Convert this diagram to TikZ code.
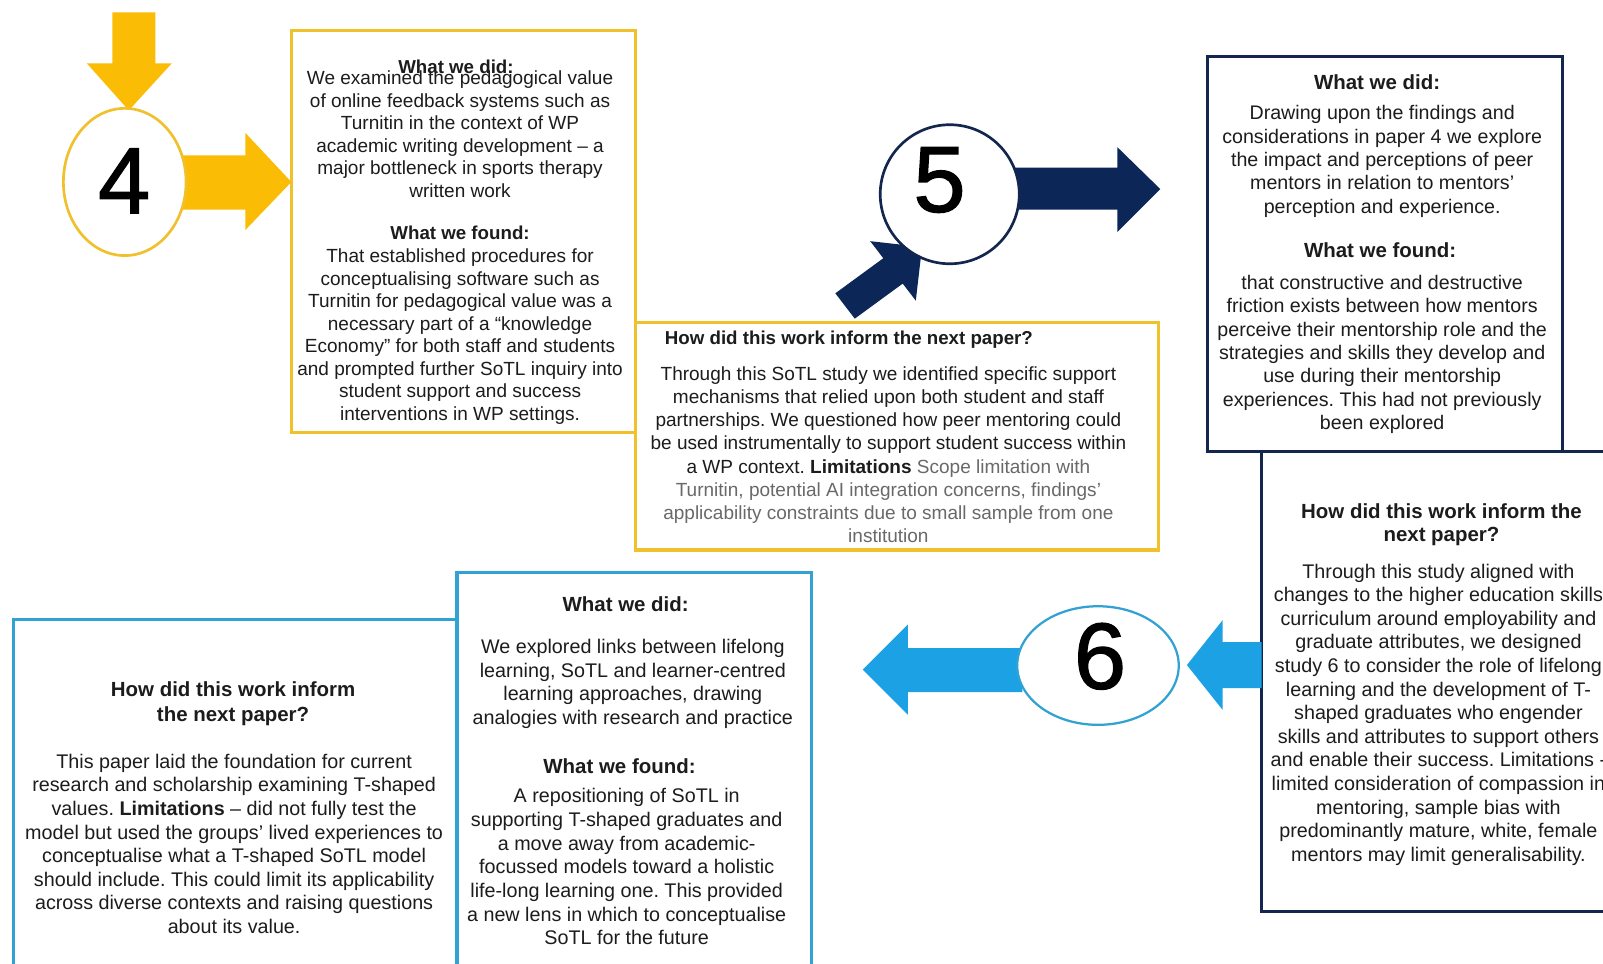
\documentclass[tikz,border=0pt]{standalone}
\usepackage{fontspec}
\setmainfont{Liberation Sans}
\newfontfamily\digitfont{Liberation Sans}[FakeBold=1.3]
\usetikzlibrary{shapes.geometric,fit}
\definecolor{ygold}{RGB}{251,188,5}
\definecolor{yline}{RGB}{240,192,45}
\definecolor{navy}{RGB}{12,38,88}
\definecolor{navyline}{RGB}{18,38,78}
\definecolor{cyanA}{RGB}{28,162,228}
\definecolor{cyanline}{RGB}{50,162,210}
\definecolor{txtc}{RGB}{28,28,28}
\definecolor{greyc}{RGB}{105,105,105}
\begin{document}
\frenchspacing
\begin{tikzpicture}[x=0.5pt,y=-0.5pt,
  box/.style={draw, fill=white, line width=1.5pt, inner sep=0pt},
  num/.style={ellipse, draw, fill=white, inner sep=0pt},
  digit/.style={inner sep=0pt, font=\digitfont\fontsize{46}{46}\selectfont, text=black},
  body/.style={align=center, inner sep=0pt, text=txtc, anchor=north},
  fa/.style={font=\fontsize{9.3}{11}\selectfont},
  fb/.style={font=\fontsize{9.3}{11.35}\selectfont},
  fc/.style={font=\fontsize{9.6}{11.4}\selectfont},
  fd/.style={font=\fontsize{9.65}{11.55}\selectfont},
  ha/.style={font=\fontsize{9.15}{11}\selectfont\bfseries},
  hb/.style={font=\fontsize{10}{11.5}\selectfont\bfseries},
  hc/.style={font=\fontsize{10}{12.5}\selectfont\bfseries}
]
\useasboundingbox (0,0) rectangle (1568,942);
\clip (0,0) rectangle (1568,942);
\fill[white] (0,0) rectangle (1568,942);

% ---------- boxes ----------
\node[box, draw=yline, fit={(285,30) (622,423)}] (box1) {};
\node[box, draw=yline, fit={(622,315) (1133,538)}] (box2) {};
\node[box, draw=navyline, fit={(1181,55) (1528,442)}] (box3) {};
\node[box, draw=navyline, fit={(1234,442) (1640,892)}] (box4) {};
\node[box, draw=cyanline, fit={(13,606) (447,980)}] (box6) {};
\node[box, draw=cyanline, fit={(447,560) (794,980)}] (box5) {};

% ---------- block arrows ----------
\fill[ygold] (110,12) -- (152,12) -- (152,62) -- (168,62) -- (126,108) -- (85,62) -- (110,62) -- cycle;
\fill[ygold] (178,152) -- (240,152) -- (240,130) -- (285,178) -- (240,225) -- (240,205) -- (178,205) -- cycle;
\fill[navy] (990,164) -- (1093,164) -- (1093,144) -- (1135,185) -- (1093,227) -- (1093,205) -- (990,205) -- cycle;
\fill[navy] (836.1,311.7) -- (883.0,277.4) -- (895.8,294.1) -- (901.9,241.6) -- (851.2,235.9) -- (864.0,252.6) -- (817.1,286.9) -- cycle;
\fill[cyanA] (1234,628) -- (1196,628) -- (1196,606.5) -- (1161,650.5) -- (1196,694.5) -- (1196,673) -- (1234,673) -- cycle;
\fill[cyanA] (1000,634) -- (888,634) -- (888,611) -- (844,655) -- (888,699) -- (888,677) -- (1000,677) -- cycle;

% ---------- numbered ellipses ----------
\node[num, draw=yline, line width=1.3pt, minimum width=60pt, minimum height=72pt] (n4) at (122,178) {};
\node[num, draw=navyline, line width=1.3pt, minimum width=68pt, minimum height=68pt] (n5) at (929,190) {};
\node[num, draw=cyanline, line width=1.1pt, minimum width=79pt, minimum height=58pt] (n6) at (1074,651) {};
\node[digit] (d4) at (121.5,177) {4};
\node[digit] (d5) at (919,176) {5};
\node[digit] (d6) at (1076,642) {6};

% ---------- box 1 ----------
\node[body, ha] (b1h1) at (446,58) {What we did:};
\node[body, fa] (b1t1) at (450,69) {We examined the pedagogical value\\of online feedback systems such as\\Turnitin in the context of WP\\academic writing development – a\\major bottleneck in sports therapy\\written work};
\node[body, ha] (b1h2) at (450,221) {What we found:};
\node[body, fa] (b1t2) at (450,243) {That established procedures for\\conceptualising software such as\\Turnitin for pedagogical value was a\\necessary part of a “knowledge\\Economy” for both staff and students\\and prompted further SoTL inquiry into\\student support and success\\interventions in WP settings.};

% ---------- box 2 ----------
\node[inner sep=0pt, anchor=north west, ha, text=txtc] (b2h) at (650,323) {How did this work inform the next paper?};
\node[body, fb] (b2t) at (869,358) {Through this SoTL study we identified specific support\\mechanisms that relied upon both student and staff\\partnerships. We questioned how peer mentoring could\\be used instrumentally to support student success within\\a WP context. \textbf{Limitations} \textcolor{greyc}{Scope limitation with}\\\textcolor{greyc}{Turnitin, potential AI integration concerns, findings’}\\\textcolor{greyc}{applicability constraints due to small sample from one}\\\textcolor{greyc}{institution}};

% ---------- box 3 ----------
\node[body, hb] (b3h1) at (1347,73) {What we did:};
\node[body, fc] (b3t1) at (1352,103) {Drawing upon the findings and\\considerations in paper 4 we explore\\the impact and perceptions of peer\\mentors in relation to mentors’\\perception and experience.};
\node[body, hb] (b3h2) at (1350,237) {What we found:};
\node[body, fc] (b3t2) at (1352,269) {that constructive and destructive\\friction exists between how mentors\\perceive their mentorship role and the\\strategies and skills they develop and\\use during their mentorship\\experiences. This had not previously\\been explored};

% ---------- box 4 ----------
\node[body, hb] (b4h) at (1410,492) {How did this work inform the\\next paper?};
\node[body, fd] (b4t) at (1407,551) {Through this study aligned with\\changes to the higher education skills\\curriculum around employability and\\graduate attributes, we designed\\study 6 to consider the role of lifelong\\learning and the development of T-\\shaped graduates who engender\\skills and attributes to support others\\and enable their success. Limitations -\\limited consideration of compassion in\\mentoring, sample bias with\\predominantly mature, white, female\\mentors may limit generalisability.};

% ---------- box 5 ----------
\node[body, hb] (b5h1) at (612,583) {What we did:};
\node[body, fd] (b5t1) at (619,625) {We explored links between lifelong\\learning, SoTL and learner-centred\\learning approaches, drawing\\analogies with research and practice};
\node[body, hb] (b5h2) at (606,742) {What we found:};
\node[body, fd] (b5t2) at (613,771) {A repositioning of SoTL in\\supporting T-shaped graduates and\\a move away from academic-\\focussed models toward a holistic\\life-long learning one. This provided\\a new lens in which to conceptualise\\SoTL for the future};

% ---------- box 6 ----------
\node[body, hc] (b6h) at (228,666) {How did this work inform\\the next paper?};
\node[body, fd] (b6t) at (229,737) {This paper laid the foundation for current\\research and scholarship examining T-shaped\\values. \textbf{Limitations} – did not fully test the\\model but used the groups’ lived experiences to\\conceptualise what a T-shaped SoTL model\\should include. This could limit its applicability\\across diverse contexts and raising questions\\about its value.};
\end{tikzpicture}
\end{document}
